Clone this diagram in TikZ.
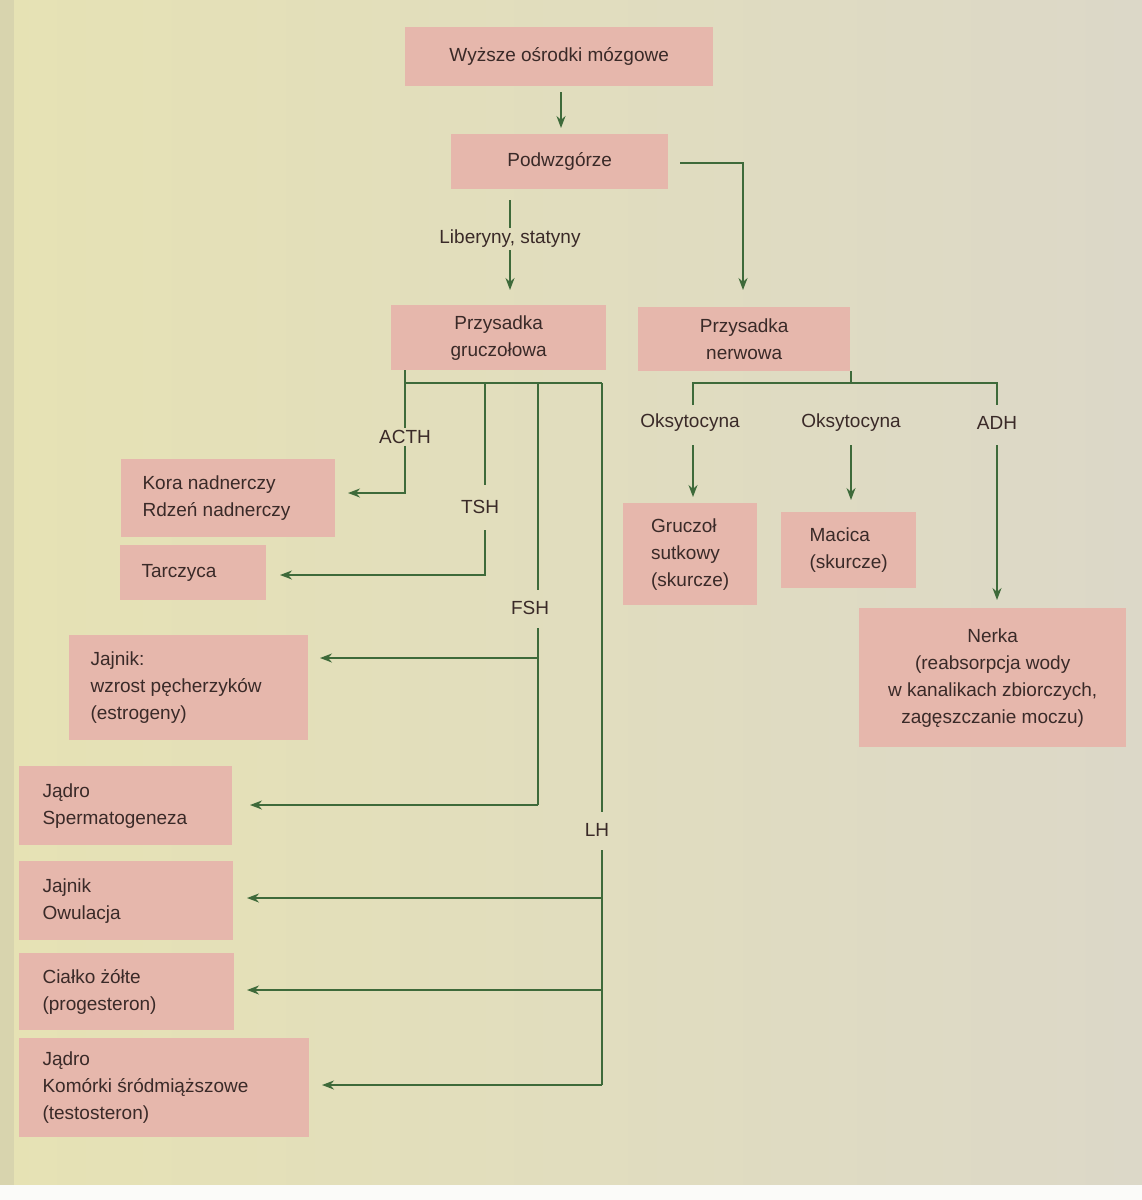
\documentclass[tikz,border=0pt]{standalone}
\usepackage{fontspec}
\setmainfont{Liberation Sans}
\usetikzlibrary{arrows.meta}
\definecolor{bgA}{HTML}{E6E2B4}
\definecolor{bgB}{HTML}{DCD8C8}
\definecolor{boxc}{HTML}{E6B7AC}
\definecolor{ln}{HTML}{3E6A3A}
\definecolor{tx}{HTML}{3A2A28}
\begin{document}
\begin{tikzpicture}[x=1pt,y=-1pt,
  every node/.style={font=\fontsize{19}{27}\selectfont, text=tx},
  box/.style={fill=boxc, inner sep=0pt, anchor=north west},
  lab/.style={inner sep=2pt},
  con/.style={draw=ln, line width=1.6pt},
  arr/.style={con, -{Stealth[length=12pt,width=9pt]}}]
\useasboundingbox (0,0) rectangle (1142,1200);
\shade[left color=bgA, right color=bgB] (0,0) rectangle (1142,1185);
\fill[white!90!bgB] (0,1185) rectangle (1142,1200);
\fill[bgB!80!black, opacity=0.25] (0,0) rectangle (14,1185);
% boxes
\node[box, minimum width=308, minimum height=59] (w) at (405,27) {};
\node at (w.center) {Wyższe ośrodki mózgowe};
\node[box, minimum width=217, minimum height=55] (p) at (451,134) {};
\node at (p.center) {Podwzgórze};
\node[box, minimum width=215, minimum height=65] (pg) at (391,305) {};
\node[align=center] at (pg.center) {Przysadka\\gruczołowa};
\node[box, minimum width=212, minimum height=64] (pn) at (638,307) {};
\node[align=center] at (pn.center) {Przysadka\\nerwowa};
\node[box, minimum width=214, minimum height=78] (kora) at (121,459) {};
\node[align=left, anchor=west] at ([xshift=18]kora.west) {Kora nadnerczy\\Rdzeń nadnerczy};
\node[box, minimum width=146, minimum height=55] (tar) at (120,545) {};
\node[anchor=west] at ([xshift=18]tar.west) {Tarczyca};
\node[box, minimum width=239, minimum height=105] (j1) at (69,635) {};
\node[align=left, anchor=west] at ([xshift=18]j1.west) {Jajnik:\\wzrost pęcherzyków\\(estrogeny)};
\node[box, minimum width=213, minimum height=79] (jd1) at (19,766) {};
\node[align=left, anchor=west] at ([xshift=20]jd1.west) {Jądro\\Spermatogeneza};
\node[box, minimum width=214, minimum height=79] (j2) at (19,861) {};
\node[align=left, anchor=west] at ([xshift=20]j2.west) {Jajnik\\Owulacja};
\node[box, minimum width=215, minimum height=77] (cz) at (19,953) {};
\node[align=left, anchor=west] at ([xshift=20]cz.west) {Ciałko żółte\\(progesteron)};
\node[box, minimum width=290, minimum height=99] (jd2) at (19,1038) {};
\node[align=left, anchor=west] at ([xshift=20]jd2.west) {Jądro\\Komórki śródmiąższowe\\(testosteron)};
\node[box, minimum width=134, minimum height=102] (gs) at (623,503) {};
\node[align=left] at (gs.center) {Gruczoł\\sutkowy\\(skurcze)};
\node[box, minimum width=135, minimum height=76] (mac) at (781,512) {};
\node[align=left] at (mac.center) {Macica\\(skurcze)};
\node[box, minimum width=267, minimum height=139] (ner) at (859,608) {};
\node[align=center] at (ner.center) {Nerka\\(reabsorpcja wody\\w kanalikach zbiorczych,\\zagęszczanie moczu)};
% top
\draw[arr] (561,92) -- (561,128);
\node[lab] (lib) at (510,239) {Liberyny, statyny};
\draw[con] (510,200) -- (lib.north);
\draw[arr] (lib.south) -- (510,290);
\draw[arr] (680,163) -| (743,290);
% gruczolowa
\draw[con] (405,370) -- (405,383) -- (602,383);
\node[lab] (acth) at (405,437) {ACTH};
\node[lab] (tsh) at (480,507) {TSH};
\node[lab] (fsh) at (530,608) {FSH};
\node[lab] (lh) at (597,830) {LH};
\draw[con] (405,383) -- (acth.north);
\draw[arr] (acth.south) |- (348,493);
\draw[con] (485,383) -- (485,485);
\draw[arr] (485,530) |- (280,575);
\draw[con] (538,383) -- (538,590);
\draw[con] (538,628) -- (538,805);
\draw[arr] (538,658) -- (320,658);
\draw[arr] (538,805) -- (250,805);
\draw[con] (602,383) -- (602,812);
\draw[con] (602,850) -- (602,1085);
\draw[arr] (602,898) -- (247,898);
\draw[arr] (602,990) -- (247,990);
\draw[arr] (602,1085) -- (322,1085);
% nerwowa
\draw[con] (851,371) -- (851,383);
\draw[con] (693,405) -- (693,383) -- (997,383) -- (997,405);
\node[lab] (o1) at (690,423) {Oksytocyna};
\node[lab] (o2) at (851,423) {Oksytocyna};
\node[lab] (adh) at (997,423) {ADH};
\draw[arr] (693,445) -- (693,497);
\draw[arr] (851,445) -- (851,500);
\draw[arr] (997,445) -- (997,600);
\end{tikzpicture}
\end{document}
